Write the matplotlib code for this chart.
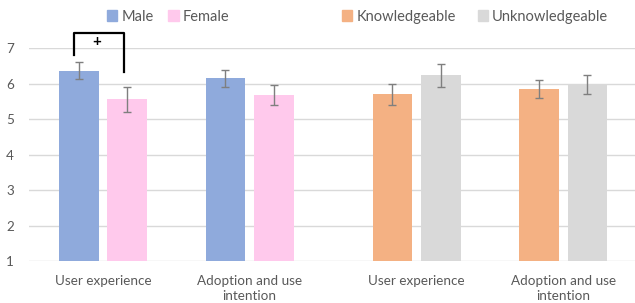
import numpy as np
import matplotlib
matplotlib.use("Agg")
import matplotlib.pyplot as plt
from matplotlib.patches import Patch

plt.rcParams['font.family'] = ['Lato', 'DejaVu Sans']

# data
categories = ['User experience', 'Adoption and use\nintention']
male = [6.36, 6.15]
male_err = [0.24, 0.24]
female = [5.56, 5.68]
female_err = [0.35, 0.28]
know = [5.70, 5.86]
know_err = [0.29, 0.25]
unknow = [6.24, 5.98]
unknow_err = [0.33, 0.27]

c_male = '#8faadc'
c_female = '#ffc9ec'
c_know = '#f4b183'
c_unknow = '#d9d9d9'
txt = '#595959'

fig = plt.figure(figsize=(6.35, 3.03), dpi=100)
ax = fig.add_axes([0.0457, 0.1386, 0.9543, 0.702])

w = 0.27
off = 0.1655
x1 = np.array([0, 1])
x2 = np.array([2.14, 3.14])
ekw = dict(ecolor='#7f7f7f', elinewidth=1, capsize=3, capthick=1)

ax.bar(x1 - off, np.array(male) - 1, w, bottom=1, color=c_male, yerr=male_err, error_kw=ekw, zorder=2)
ax.bar(x1 + off, np.array(female) - 1, w, bottom=1, color=c_female, yerr=female_err, error_kw=ekw, zorder=2)
ax.bar(x2 - off, np.array(know) - 1, w, bottom=1, color=c_know, yerr=know_err, error_kw=ekw, zorder=2)
ax.bar(x2 + off, np.array(unknow) - 1, w, bottom=1, color=c_unknow, yerr=unknow_err, error_kw=ekw, zorder=2)

ax.set_ylim(1, 7)
ax.set_xlim(-0.505, 3.63)
ax.set_yticks(range(1, 8))
ax.set_xticks(np.concatenate([x1, x2]))
ax.set_xticklabels(categories + categories, linespacing=1.35)
ax.tick_params(length=0, labelsize=9.7, labelcolor=txt)
ax.tick_params(axis='y', pad=11)
ax.tick_params(axis='x', pad=10)
ax.grid(axis='y', color='#d9d9d9', lw=1, zorder=0)
for s in ax.spines.values():
    s.set_visible(False)

# significance bracket
bx = [-0.2, -0.2, 0.14, 0.14]
by = [6.81, 7.43, 7.43, 6.33]
ax.plot(bx, by, color='black', lw=1.6, clip_on=False, zorder=3)
ax.text(-0.04, 7.17, '+', ha='center', va='center', fontsize=11, fontweight='bold', color='black')

leg1 = fig.legend(handles=[Patch(color=c_male, label='Male'), Patch(color=c_female, label='Female')],
                  loc='center', bbox_to_anchor=(0.265, 0.945), ncol=2, frameon=False,
                  fontsize=10.5, handlelength=0.7, handleheight=0.7, handletextpad=0.3, columnspacing=1.0,
                  labelcolor=txt)
leg2 = fig.legend(handles=[Patch(color=c_know, label='Knowledgeable'), Patch(color=c_unknow, label='Unknowledgeable')],
                  loc='center', bbox_to_anchor=(0.748, 0.945), ncol=2, frameon=False,
                  fontsize=10.5, handlelength=0.7, handleheight=0.7, handletextpad=0.3, columnspacing=1.5,
                  labelcolor=txt)

fig.savefig('out.png', dpi=100)
